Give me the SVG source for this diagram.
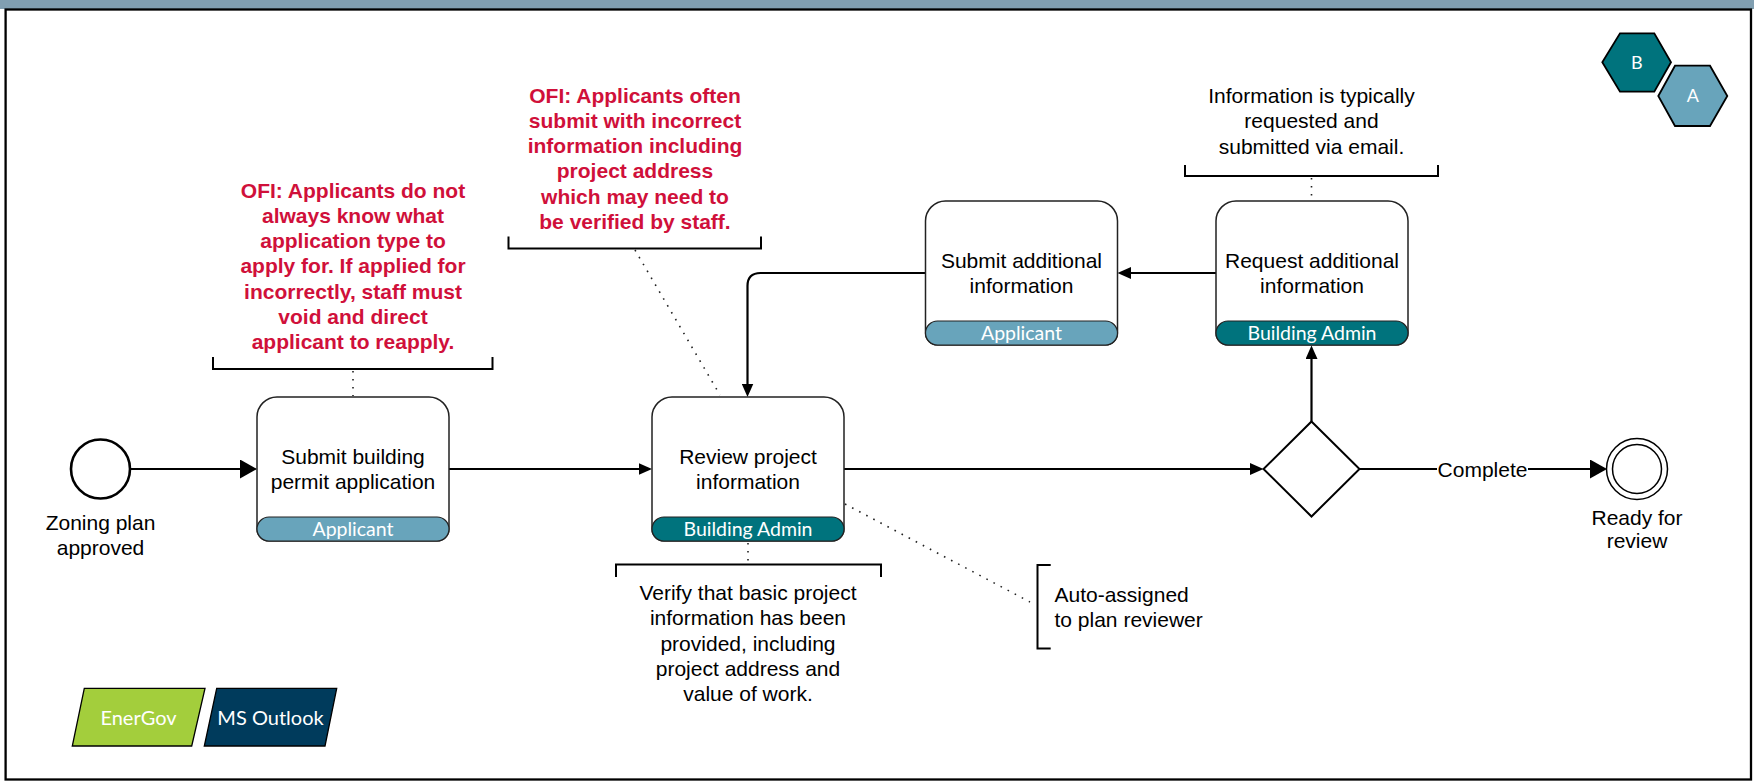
<svg xmlns="http://www.w3.org/2000/svg" xmlns:xlink="http://www.w3.org/1999/xlink" width="1754" height="782" viewBox="0 0 1754 782">
  <style>
    .lbl { font-family: "Liberation Sans", Arial, sans-serif; font-size: 21px; fill: #000; text-anchor: middle; }
    .left { text-anchor: start; }
    .ofi { font-family: "Liberation Sans", Arial, sans-serif; font-size: 21px; font-weight: bold; fill: #D0103A; text-anchor: middle; }
    .role { font-family: Lato, "Open Sans", sans-serif; font-size: 19.5px; fill: #fff; text-anchor: middle; }
    .sys { font-family: Lato, "Open Sans", sans-serif; font-size: 20px; fill: #fff; text-anchor: middle; }
    .hex { font-family: Lato, "Open Sans", sans-serif; font-size: 18px; fill: #fff; text-anchor: middle; }
    .task { fill: #fff; stroke: #222; stroke-width: 1.5; }
    .applicant { fill: #68A4BB; stroke: #222; stroke-width: 1.2; }
    .admin { fill: #00737D; stroke: #222; stroke-width: 1.2; }
    .flow { fill: none; stroke: #000; stroke-width: 2.2; }
    .dots { fill: none; stroke: #222; stroke-width: 1.6; stroke-dasharray: 1.6 6.4; }
    .bracket { fill: none; stroke: #000; stroke-width: 2; }
  </style>
  <defs>
    <!-- task outline: larger top radius, role band covers the bottom -->
    <path id="taskShape" d="M20,0 H172 A20,20 0 0 1 192,20 V132 A12,12 0 0 1 180,144 H12 A12,12 0 0 1 0,132 V20 A20,20 0 0 1 20,0 Z"/>
    <marker id="arrowL" markerUnits="userSpaceOnUse" markerWidth="17" markerHeight="19" refX="9" refY="9.5" orient="auto">
      <path d="M0,0 L17,9.5 L0,19 Z" fill="#000"/>
    </marker>
    <marker id="arrowS" markerUnits="userSpaceOnUse" markerWidth="14" markerHeight="12" refX="7.5" refY="6" orient="auto">
      <path d="M0,0 L13.5,6 L0,12 Z" fill="#000"/>
    </marker>
  </defs>

  <!-- page frame and header strip -->
  <rect x="0" y="0" width="1754" height="9" fill="#819FB1"/>
  <rect x="5.6" y="9.5" width="1745.4" height="770" fill="#fff" stroke="#000" stroke-width="2.3"/>

  <!-- annotations -->
  <g id="note-ofi-application">
    <text class="ofi" x="353" y="197.5">OFI: Applicants do not</text>
    <text class="ofi" x="353" y="222.8">always know what</text>
    <text class="ofi" x="353" y="248.1">application type to</text>
    <text class="ofi" x="353" y="273.4">apply for. If applied for</text>
    <text class="ofi" x="353" y="298.7">incorrectly, staff must</text>
    <text class="ofi" x="353" y="324">void and direct</text>
    <text class="ofi" x="353" y="349.3">applicant to reapply.</text>
    <path class="bracket" d="M213,357 V369 H492.5 V357"/>
  </g>
  <g id="note-ofi-address">
    <text class="ofi" x="635" y="102.5">OFI: Applicants often</text>
    <text class="ofi" x="635" y="127.8">submit with incorrect</text>
    <text class="ofi" x="635" y="153.1">information including</text>
    <text class="ofi" x="635" y="178.4">project address</text>
    <text class="ofi" x="635" y="203.7">which may need to</text>
    <text class="ofi" x="635" y="229">be verified by staff.</text>
    <path class="bracket" d="M508.5,236.5 V248.5 H761 V236.5"/>
  </g>
  <g id="note-email">
    <text class="lbl" x="1311.5" y="102.5">Information is typically</text>
    <text class="lbl" x="1311.5" y="128">requested and</text>
    <text class="lbl" x="1311.5" y="153.5">submitted via email.</text>
    <path class="bracket" d="M1185,165 V176 H1438 V165"/>
  </g>
  <g id="note-verify">
    <path class="bracket" d="M616,577 V564.5 H881 V577"/>
    <text class="lbl" x="748" y="600">Verify that basic project</text>
    <text class="lbl" x="748" y="625.3">information has been</text>
    <text class="lbl" x="748" y="650.6">provided, including</text>
    <text class="lbl" x="748" y="675.9">project address and</text>
    <text class="lbl" x="748" y="701.2">value of work.</text>
  </g>
  <g id="note-assigned">
    <path class="bracket" d="M1050.7,565 H1037.5 V648.5 H1050.7"/>
    <text class="lbl left" x="1054.5" y="601.5">Auto-assigned</text>
    <text class="lbl left" x="1054.5" y="627">to plan reviewer</text>
  </g>

  <!-- connectors: sequence flows and dotted associations -->
  <g id="connectors">
    <path class="dots" d="M353,371 V396"/>
    <path class="dots" d="M635,250 L720,395"/>
    <path class="dots" d="M1311.5,178 V200"/>
    <path class="dots" d="M748,543 V564"/>
    <path class="dots" d="M845,504 L1030,602"/>

    <path class="flow" d="M130,469 H249" marker-end="url(#arrowL)"/>
    <path class="flow" d="M449,469 H646" marker-end="url(#arrowS)"/>
    <path class="flow" d="M844,469 H1257.5" marker-end="url(#arrowS)"/>
    <path class="flow" d="M1311.5,421.5 V351.5" marker-end="url(#arrowS)"/>
    <path class="flow" d="M1216,273 H1123.5" marker-end="url(#arrowS)"/>
    <path class="flow" d="M925.5,273 H760.5 Q747.5,273 747.5,286 V391" marker-end="url(#arrowS)"/>
    <path class="flow" d="M1359.5,469 H1599" marker-end="url(#arrowL)"/>
    <rect x="1437" y="456" width="91" height="26" fill="#fff"/>
    <text class="lbl" x="1482.5" y="476.5">Complete</text>
  </g>

  <!-- events -->
  <g id="start-zoning-approved">
    <circle cx="100.5" cy="469" r="29.5" fill="#fff" stroke="#000" stroke-width="2.6"/>
    <text class="lbl" x="100.5" y="530">Zoning plan</text>
    <text class="lbl" x="100.5" y="555">approved</text>
  </g>
  <g id="end-ready-for-review">
    <circle cx="1637" cy="469" r="30.5" fill="#fff" stroke="#000" stroke-width="1.5"/>
    <circle cx="1637" cy="469" r="24.5" fill="none" stroke="#000" stroke-width="1.5"/>
    <text class="lbl" x="1637" y="524.5">Ready for</text>
    <text class="lbl" x="1637" y="548">review</text>
  </g>

  <!-- tasks -->
  <g id="task-submit-application" transform="translate(257,397)">
    <use xlink:href="#taskShape" class="task"/>
    <rect class="applicant" x="0" y="120" width="192" height="24" rx="12"/>
    <text class="lbl" x="96" y="66.5">Submit building</text>
    <text class="lbl" x="96" y="92">permit application</text>
    <text class="role" x="96" y="139">Applicant</text>
  </g>
  <g id="task-review-project" transform="translate(652,397)">
    <use xlink:href="#taskShape" class="task"/>
    <rect class="admin" x="0" y="120" width="192" height="24" rx="12"/>
    <text class="lbl" x="96" y="66.5">Review project</text>
    <text class="lbl" x="96" y="92">information</text>
    <text class="role" x="96" y="139">Building Admin</text>
  </g>
  <g id="task-submit-additional" transform="translate(925.5,201)">
    <use xlink:href="#taskShape" class="task"/>
    <rect class="applicant" x="0" y="120" width="192" height="24" rx="12"/>
    <text class="lbl" x="96" y="66.5">Submit additional</text>
    <text class="lbl" x="96" y="92">information</text>
    <text class="role" x="96" y="139">Applicant</text>
  </g>
  <g id="task-request-additional" transform="translate(1216,201)">
    <use xlink:href="#taskShape" class="task"/>
    <rect class="admin" x="0" y="120" width="192" height="24" rx="12"/>
    <text class="lbl" x="96" y="66.5">Request additional</text>
    <text class="lbl" x="96" y="92">information</text>
    <text class="role" x="96" y="139">Building Admin</text>
  </g>

  <!-- decision -->
  <g id="gateway-complete">
    <polygon points="1311.5,421.5 1359.5,469 1311.5,516.5 1263.5,469" fill="#fff" stroke="#000" stroke-width="2"/>
  </g>

  <!-- role badges -->
  <g id="badge-b">
    <polygon points="1602.3,62.3 1620,33.3 1654.3,33.3 1671,62.3 1654.3,91.7 1620,91.7" fill="#00737D" stroke="#000" stroke-width="1.8"/>
    <text class="hex" x="1636.7" y="68.7">B</text>
  </g>
  <g id="badge-a">
    <polygon points="1658.3,96 1675,65.7 1710,65.7 1727.3,96 1710,126 1675,126" fill="#68A4BB" stroke="#000" stroke-width="1.8"/>
    <text class="hex" x="1692.8" y="102.4">A</text>
  </g>

  <!-- systems legend -->
  <g id="system-energov">
    <polygon points="84.3,688.3 205,688.3 191.7,746 72.3,746" fill="#A3CE3C" stroke="#000" stroke-width="1.3"/>
    <text class="sys" x="138.5" y="725">EnerGov</text>
  </g>
  <g id="system-outlook">
    <polygon points="216.7,688.3 336.7,688.3 325,746 204.3,746" fill="#003B5C" stroke="#000" stroke-width="1.3"/>
    <text class="sys" x="270.5" y="725">MS Outlook</text>
  </g>
</svg>
